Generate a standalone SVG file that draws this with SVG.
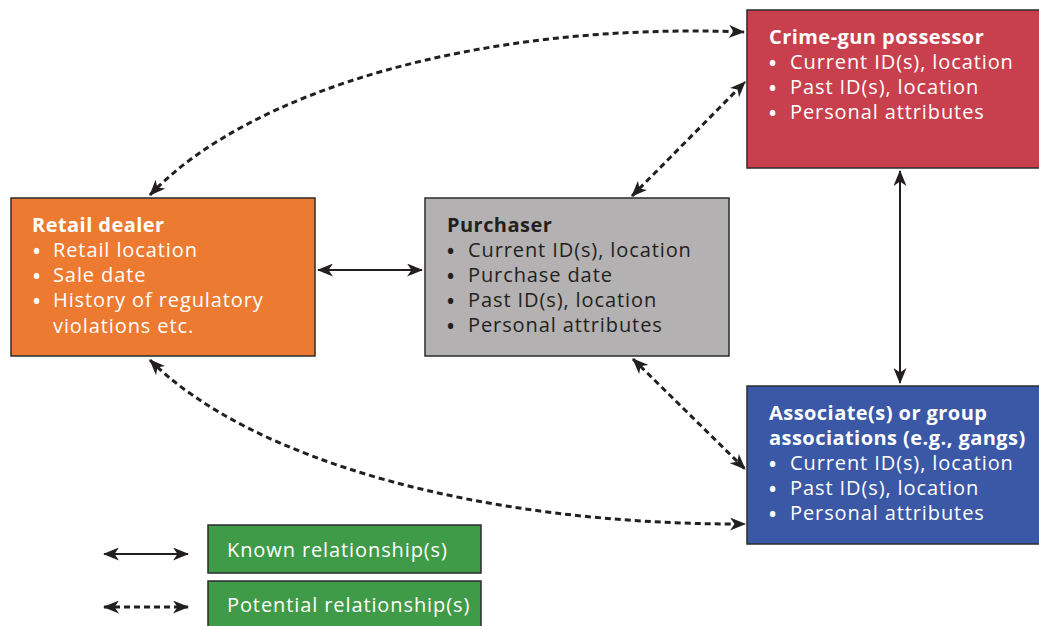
<svg xmlns="http://www.w3.org/2000/svg" width="1039" height="626" viewBox="0 0 1039 626">
<style>
.box{stroke:#2b2b2b;stroke-width:1.5}
.t{font-family:"Open Sans","Noto Sans",sans-serif;font-size:20px;letter-spacing:0.9px;fill:#fff}
.b{font-weight:bold;letter-spacing:0.45px}
.bu{font-size:19px;font-weight:bold;letter-spacing:0}
.dk{fill:#231f20}
.solid{fill:none;stroke:#231f20;stroke-width:2}
.dash{fill:none;stroke:#231f20;stroke-width:3;stroke-dasharray:6 4}
</style>
<defs>
<marker id="ah" markerUnits="userSpaceOnUse" markerWidth="16" markerHeight="13" refX="15" refY="6.5" orient="auto-start-reverse" viewBox="0 0 16 13">
<path d="M0,0 L16,6.5 L0,13 L4.5,6.5 z" fill="#231f20"/>
</marker>
</defs>
<rect width="1039" height="626" fill="#fff"/>
<g id="connectors">
<line class="solid" x1="318" y1="270" x2="422" y2="270" marker-start="url(#ah)" marker-end="url(#ah)"/>
<line class="solid" x1="900" y1="171" x2="900" y2="383" marker-start="url(#ah)" marker-end="url(#ah)"/>
<path class="dash" d="M150,195 C250,90 480,22 744,32" marker-start="url(#ah)" marker-end="url(#ah)"/>
<path class="dash" d="M632,196 L745,82" marker-start="url(#ah)" marker-end="url(#ah)"/>
<path class="dash" d="M633,359 L745,469" marker-start="url(#ah)" marker-end="url(#ah)"/>
<path class="dash" d="M150,360 C250,460 480,525 745,524" marker-start="url(#ah)" marker-end="url(#ah)"/>
</g>
<g id="retail-dealer">
<rect class="box" x="11" y="198" width="304" height="158" fill="#ed7a31"/>
<text class="t b" x="32" y="232">Retail dealer</text>
<text class="t bu" x="33" y="258">•</text><text class="t" x="53" y="257">Retail location</text>
<text class="t bu" x="33" y="283">•</text><text class="t" x="53" y="282">Sale date</text>
<text class="t bu" x="33" y="308">•</text><text class="t" x="53" y="307">History of regulatory</text>
<text class="t" x="53" y="333">violations etc.</text>
</g>
<g id="purchaser">
<rect class="box" x="425" y="198" width="304" height="158" fill="#b3b1b1"/>
<text class="t b dk" x="447" y="232">Purchaser</text>
<text class="t bu dk" x="447" y="258">•</text><text class="t dk" x="468" y="257">Current ID(s), location</text>
<text class="t bu dk" x="447" y="283">•</text><text class="t dk" x="468" y="282">Purchase date</text>
<text class="t bu dk" x="447" y="308">•</text><text class="t dk" x="468" y="307">Past ID(s), location</text>
<text class="t bu dk" x="447" y="333">•</text><text class="t dk" x="468" y="332">Personal attributes</text>
</g>
<g id="crime-gun-possessor">
<rect class="box" x="747" y="10" width="300" height="158" fill="#c8404d"/>
<text class="t b" x="769" y="44">Crime-gun possessor</text>
<text class="t bu" x="769" y="70">•</text><text class="t" x="790" y="69">Current ID(s), location</text>
<text class="t bu" x="769" y="95">•</text><text class="t" x="790" y="94">Past ID(s), location</text>
<text class="t bu" x="769" y="120">•</text><text class="t" x="790" y="119">Personal attributes</text>
</g>
<g id="associates">
<rect class="box" x="747" y="386" width="300" height="158" fill="#3a58a5"/>
<text class="t b" x="769" y="420">Associate(s) or group</text>
<text class="t b" x="769" y="445">associations (e.g., gangs)</text>
<text class="t bu" x="769" y="471">•</text><text class="t" x="790" y="470">Current ID(s), location</text>
<text class="t bu" x="769" y="496">•</text><text class="t" x="790" y="495">Past ID(s), location</text>
<text class="t bu" x="769" y="521">•</text><text class="t" x="790" y="520">Personal attributes</text>
</g>
<g id="legend-known">
<line class="solid" x1="104" y1="554" x2="188" y2="554" marker-start="url(#ah)" marker-end="url(#ah)"/>
<rect class="box" x="208" y="525" width="273" height="48" fill="#3f9b47"/>
<text class="t" x="227" y="557">Known relationship(s)</text>
</g>
<g id="legend-potential">
<line class="dash" x1="104" y1="607" x2="188" y2="607" marker-start="url(#ah)" marker-end="url(#ah)"/>
<rect class="box" x="208" y="581" width="273" height="60" fill="#3f9b47"/>
<text class="t" x="227" y="612">Potential relationship(s)</text>
</g>
</svg>
